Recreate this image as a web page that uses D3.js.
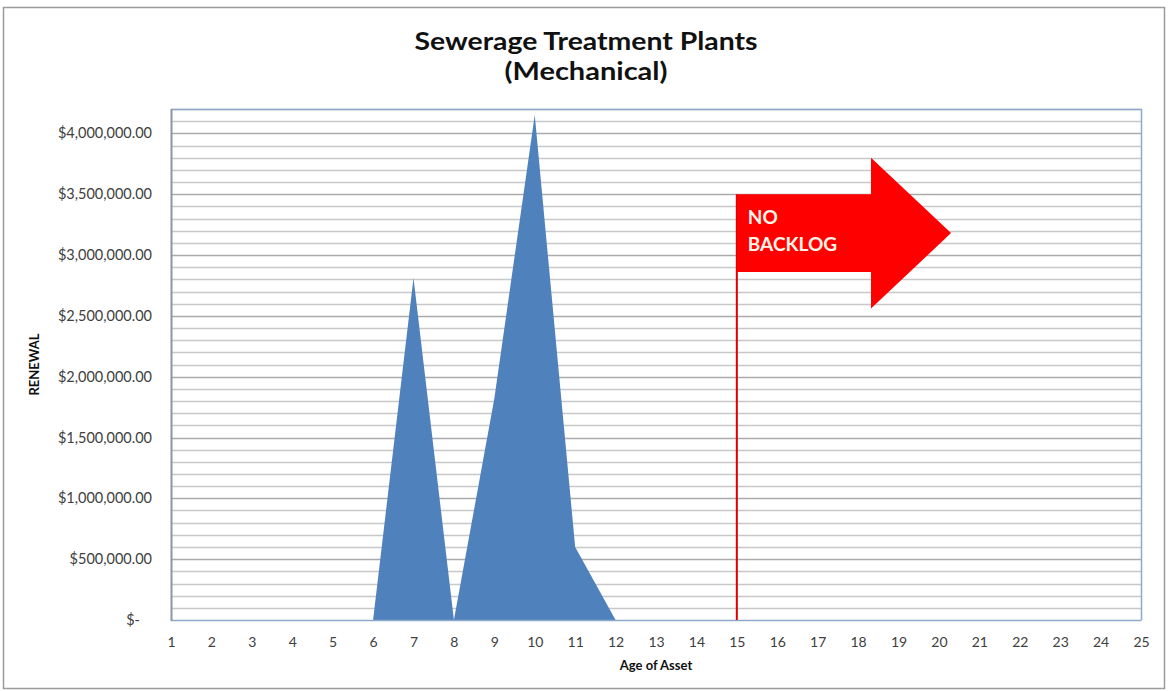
<!DOCTYPE html>
<html>
<head>
<meta charset="utf-8">
<script src="https://cdn.jsdelivr.net/npm/d3@7"></script>
<style>
  html, body { margin: 0; padding: 0; background: #fff; }
  svg { display: block; font-family: Lato, "Open Sans", sans-serif; }
</style>
</head>
<body>
<svg id="chart" width="1168" height="691"></svg>
<script>
// ---- data ----
const categories = [1,2,3,4,5,6,7,8,9,10,11,12,13,14,15,16,17,18,19,20,21,22,23,24,25];
const renewal = [0,0,0,0,0,0,2810000,0,1820000,4150000,600000,0,0,0,0,0,0,0,0,0,0,0,0,0,0];
const yTicks = [0,500000,1000000,1500000,2000000,2500000,3000000,3500000,4000000];
const yMax = 4200000;
const gridStep = 100000;
const titleLines = ["Sewerage Treatment Plants", "(Mechanical)"];
const xTitle = "Age of Asset";
const yTitle = "RENEWAL";
const markerCategory = 15;
const markerTop = 3500000;
const arrowText = ["NO", "BACKLOG"];
// arrow shape in data units: [category position, value]
const arrowShape = [
  [15, 3500000], [18.32, 3500000], [18.32, 3800000], [20.3, 3180000],
  [18.32, 2560000], [18.32, 2860000], [15, 2860000]
];

// ---- layout ----
const svg = d3.select("#chart");
const L = 171, R = 1141, T = 109, B = 620;

const x = d3.scaleLinear().domain([1, 25]).range([L, R]);
const y = d3.scaleLinear().domain([0, yMax]).range([B, T]);

// outer border
svg.append("rect").attr("x", 3.5).attr("y", 7.5).attr("width", 1161).attr("height", 681)
  .attr("fill", "#fff").attr("stroke", "#9a9a9a").attr("stroke-width", 1.5);

// gridlines
const grid = d3.range(gridStep, yMax + 1, gridStep);
svg.append("g").selectAll("line").data(grid).join("line")
  .attr("x1", L).attr("x2", R)
  .attr("y1", d => Math.round(y(d)) + 0.5).attr("y2", d => Math.round(y(d)) + 0.5)
  .attr("stroke", d => (d % 500000 === 0) ? "#ababab" : "#c8c8c8")
  .attr("stroke-width", 1.5);

// area
const area = d3.area()
  .x((d, i) => x(categories[i]))
  .y0(y(0))
  .y1(d => y(d));
svg.append("path").datum(renewal).attr("d", area).attr("fill", "#4F81BD");

// plot border (top/right) and axes lines
svg.append("path")
  .attr("d", `M${L},${T + 0.5}H${R + 0.5}V${B}`)
  .attr("fill", "none").attr("stroke", "#8eaacb").attr("stroke-width", 1.5);
svg.append("line").attr("x1", L).attr("x2", R + 0.5).attr("y1", B + 0.5).attr("y2", B + 0.5)
  .attr("stroke", "#8eaacb").attr("stroke-width", 1.5);
svg.append("line").attr("x1", L + 0.5).attr("x2", L + 0.5).attr("y1", T).attr("y2", B + 1)
  .attr("stroke", "#8a96a6").attr("stroke-width", 2);

// y axis
const fmt = d3.format(",.2f");
const yAxis = d3.axisLeft(y).tickValues(yTicks).tickSize(0).tickPadding(19)
  .tickFormat(d => d === 0 ? "$-" : "$" + fmt(d));
const gy = svg.append("g").attr("transform", `translate(${L},0)`).call(yAxis);
gy.select(".domain").remove();
gy.selectAll("text").attr("font-size", 14.5).attr("fill", "#404040")
  .attr("font-family", "Lato, sans-serif");
gy.selectAll("text").filter(d => d === 0).attr("dx", -12);

// x axis
const xAxis = d3.axisBottom(x).tickValues(categories).tickSize(0).tickPadding(17)
  .tickFormat(d3.format("d"));
const gx = svg.append("g").attr("transform", `translate(0,${B})`).call(xAxis);
gx.select(".domain").remove();
gx.selectAll("text").attr("font-size", 14).attr("fill", "#404040")
  .attr("font-family", "Lato, sans-serif");

// titles
svg.append("text").attr("x", 586).attr("y", 50).attr("text-anchor", "middle")
  .attr("font-size", 25).attr("font-weight", "bold").attr("fill", "#111")
  .attr("textLength", 343).attr("lengthAdjust", "spacingAndGlyphs")
  .text(titleLines[0]);
svg.append("text").attr("x", 586).attr("y", 80).attr("text-anchor", "middle")
  .attr("font-size", 25).attr("font-weight", "bold").attr("fill", "#111")
  .attr("textLength", 163).attr("lengthAdjust", "spacingAndGlyphs")
  .text(titleLines[1]);

svg.append("text").attr("x", 656).attr("y", 670).attr("text-anchor", "middle")
  .attr("font-size", 13).attr("font-weight", "bold").attr("fill", "#111")
  .text(xTitle);

svg.append("text").attr("transform", `translate(39,${(T + B) / 2}) rotate(-90)`)
  .attr("text-anchor", "middle")
  .attr("font-size", 13).attr("font-weight", "bold").attr("fill", "#111")
  .text(yTitle);

// marker line
svg.append("line").attr("x1", x(markerCategory)).attr("x2", x(markerCategory))
  .attr("y1", y(markerTop)).attr("y2", B)
  .attr("stroke", "#e00000").attr("stroke-width", 2);

// arrow
svg.append("path")
  .attr("d", d3.line().x(d => x(d[0])).y(d => y(d[1]))(arrowShape) + "Z")
  .attr("fill", "#ff0000");

svg.append("g").selectAll("text").data(arrowText).join("text")
  .attr("x", x(markerCategory) + 11)
  .attr("y", (d, i) => 224 + i * 27)
  .attr("font-size", 19).attr("font-weight", "bold").attr("fill", "#fff6ea")
  .text(d => d);
</script>
</body>
</html>
